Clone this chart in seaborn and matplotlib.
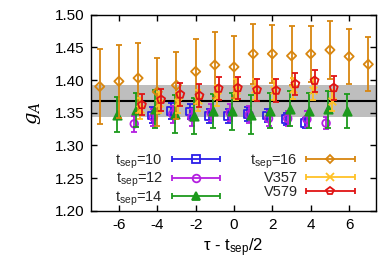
import numpy as np
import matplotlib
matplotlib.use("Agg")
import matplotlib.pyplot as plt
import seaborn as sns
from matplotlib.container import ErrorbarContainer
from matplotlib.legend_handler import HandlerErrorbar

# ---- data ----
tau10 = [-4, -3, -2, -1, 0, 1, 2, 3, 4]
g10 = [1.346, 1.353, 1.352, 1.345, 1.345, 1.348, 1.346, 1.340, 1.334]
e10 = [0.012, 0.012, 0.011, 0.011, 0.010, 0.010, 0.010, 0.009, 0.008]

tau12 = [-5, -4, -3, -2, -1, 0, 1, 2, 3, 4, 5]
g12 = [1.333, 1.343, 1.348, 1.343, 1.350, 1.350, 1.347, 1.341, 1.341, 1.340, 1.334]
e12 = [0.012, 0.013, 0.013, 0.013, 0.013, 0.013, 0.013, 0.012, 0.012, 0.012, 0.009]

tau14 = [-6, -5, -4, -3, -2, -1, 0, 1, 2, 3, 4, 5, 6]
g14 = [1.347, 1.354, 1.356, 1.348, 1.345, 1.352, 1.352, 1.347, 1.353, 1.356, 1.353, 1.355, 1.352]
e14 = [0.027, 0.026, 0.029, 0.029, 0.028, 0.026, 0.028, 0.030, 0.027, 0.027, 0.027, 0.028, 0.026]

tau16 = [-7, -6, -5, -4, -3, -2, -1, 0, 1, 2, 3, 4, 5, 6, 7]
g16 = [1.390, 1.398, 1.403, 1.382, 1.392, 1.413, 1.423, 1.420, 1.440, 1.440, 1.437, 1.440, 1.446, 1.436, 1.424]
e16 = [0.057, 0.056, 0.054, 0.052, 0.051, 0.050, 0.050, 0.048, 0.046, 0.044, 0.045, 0.043, 0.044, 0.042, 0.041]

tauV357 = [-5, -4, -3, -2, -1, 0, 1, 2, 3, 4, 5]
gV357 = [1.356, 1.365, 1.366, 1.369, 1.376, 1.385, 1.386, 1.385, 1.387, 1.385, 1.368]
eV357 = [0.016, 0.016, 0.016, 0.016, 0.016, 0.016, 0.016, 0.016, 0.016, 0.016, 0.016]

tauV579 = [-5, -4, -3, -2, -1, 0, 1, 2, 3, 4, 5]
gV579 = [1.362, 1.370, 1.378, 1.376, 1.387, 1.388, 1.385, 1.384, 1.394, 1.399, 1.388]
eV579 = [0.016, 0.017, 0.017, 0.018, 0.017, 0.017, 0.017, 0.017, 0.017, 0.017, 0.018]

band_center = 1.368
band_half = 0.024

labels = [r"t$_{\mathsf{sep}}$=10", r"t$_{\mathsf{sep}}$=12", r"t$_{\mathsf{sep}}$=14",
          r"t$_{\mathsf{sep}}$=16", "V357", "V579"]

# ---- style ----
sns.set_theme(style="ticks")
plt.rcParams["font.family"] = ["Liberation Sans", "DejaVu Sans"]
plt.rcParams["axes.unicode_minus"] = False
plt.rcParams["mathtext.fontset"] = "custom"
plt.rcParams["mathtext.rm"] = "DejaVu Serif"
plt.rcParams["mathtext.it"] = "DejaVu Serif:italic"
plt.rcParams["mathtext.sf"] = "Liberation Sans"

fig = plt.figure(figsize=(3.86, 2.70), dpi=100)
ax = fig.add_axes([0.236, 0.219, 0.738, 0.727])

ax.axhspan(band_center - band_half, band_center + band_half, color="#BEBEBE", lw=0, zorder=0)
ax.axhline(band_center, color="black", lw=1.5, zorder=1)

series = [
    (tau10, g10, e10, "#2B1EE8", "s", True, -0.3),
    (tau12, g12, e12, "#B31EE0", "o", True, -0.2),
    (tau14, g14, e14, "#1C9A1C", "^", False, -0.1),
    (tau16, g16, e16, "#D8860F", "D", True, 0.0),
    (tauV357, gV357, eV357, "#FFC226", "x", False, 0.1),
    (tauV579, gV579, eV579, "#E01414", "p", True, 0.2),
]

handles = []
for i, (t, g, e, c, m, hollow, sh) in enumerate(series):
    x = np.asarray(t, float) + sh
    ax.errorbar(x, g, yerr=e, fmt="none", ecolor=c, elinewidth=1.3,
                capsize=2, capthick=1.3, zorder=2 + i)
    size = {"s": 30, "o": 30, "^": 36, "D": 22, "x": 30, "p": 36}[m]
    if hollow:
        sns.scatterplot(x=x, y=g, marker=m, s=size, facecolor="none",
                        edgecolor=c, linewidth=1.3, ax=ax, zorder=2.5 + i)
    else:
        sns.scatterplot(x=x, y=g, marker=m, s=size, color=c,
                        edgecolor=c, linewidth=1.3, ax=ax, zorder=2.5 + i)
    h = ax.errorbar([np.nan], [np.nan], xerr=[1.0], fmt=m, color=c,
                    mfc="none" if hollow else c, mec=c, mew=1.3,
                    ms=5.5 if m != "D" else 4.5, elinewidth=1.3,
                    capsize=2, capthick=1.3, label=labels[i])
    handles.append(h)

ax.set_xlim(-7.45, 7.4)
ax.set_ylim(1.20, 1.50)
ax.set_xticks([-6, -4, -2, 0, 2, 4, 6])
ax.set_yticks([1.20, 1.25, 1.30, 1.35, 1.40, 1.45, 1.50])
ax.set_yticklabels([f"{v:.2f}" for v in [1.20, 1.25, 1.30, 1.35, 1.40, 1.45, 1.50]])
ax.tick_params(direction="in", top=True, right=True, length=4, width=1,
               labelsize=11, color="black", labelcolor="black", pad=5)
for sp in ax.spines.values():
    sp.set_color("black")
    sp.set_linewidth(1.0)

ax.set_xlabel(r"τ - t$_{\mathsf{sep}}$/2", fontsize=12, color="black", labelpad=3)
ax.set_ylabel(r"$g_A$", fontsize=14, color="black", labelpad=8)

leg = ax.legend(handles=handles, ncol=2, loc="lower center",
                bbox_to_anchor=(0.505, -0.035), frameon=False, markerfirst=False,
                fontsize=10.5, handlelength=3.3, labelspacing=0.0,
                columnspacing=2.1, handletextpad=0.6, borderaxespad=0.3,
                handler_map={ErrorbarContainer: HandlerErrorbar(xerr_size=1.65)})

fig.savefig("out.png", dpi=100)
